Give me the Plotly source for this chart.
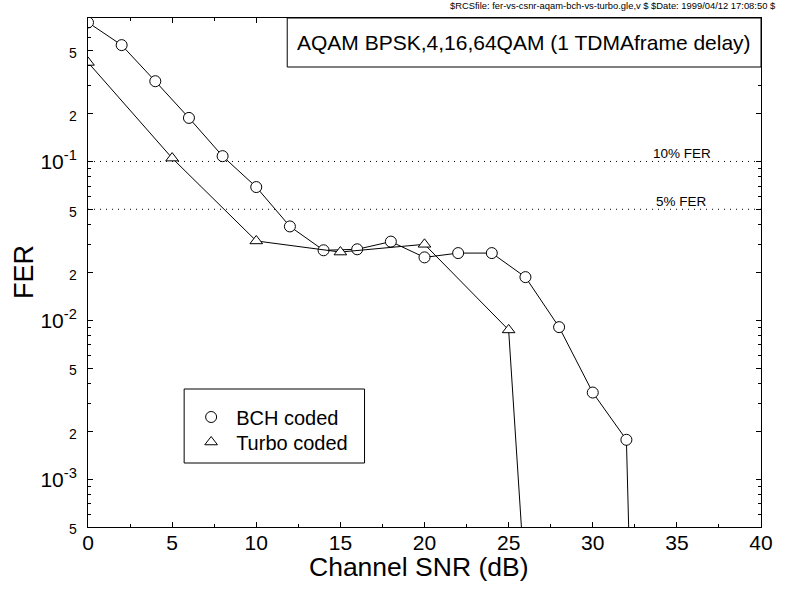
import plotly.graph_objects as go

# ---- data ----
bch_snr = [0, 2, 4, 6, 8, 10, 12, 14, 16, 18, 20, 22, 24, 26, 28, 30, 32, 34]
bch_fer = [0.75, 0.54, 0.32, 0.188, 0.108, 0.069, 0.039, 0.0276, 0.028, 0.0313,
           0.0249, 0.0265, 0.0265, 0.0187, 0.00906, 0.00351, 0.00177, 1.3e-11]
turbo_snr = [0, 5, 10, 15, 20, 25, 30]
turbo_fer = [0.42, 0.105, 0.0316, 0.0269, 0.0301, 0.0087, 6e-11]

ref_x = [0, 40]
fer10 = [0.1, 0.1]
fer5 = [0.05, 0.05]

y_major = [5e-4, 1e-3, 2e-3, 5e-3, 1e-2, 2e-2, 5e-2, 0.1, 0.2, 0.5]
y_major_text = ["<span style='font-size:14px'>5</span>", "10<sup>-3</sup>",
                "<span style='font-size:14px'>2</span>", "<span style='font-size:14px'>5</span>",
                "10<sup>-2</sup>", "<span style='font-size:14px'>2</span>",
                "<span style='font-size:14px'>5</span>", "10<sup>-1</sup>",
                "<span style='font-size:14px'>2</span>", "<span style='font-size:14px'>5</span>"]
y_minor = [6e-4, 7e-4, 8e-4, 9e-4,
           3e-3, 4e-3, 6e-3, 7e-3, 8e-3, 9e-3,
           3e-2, 4e-2, 6e-2, 7e-2, 8e-2, 9e-2,
           0.3, 0.4, 0.6, 0.7]

FONT = "Liberation Sans, Arial, sans-serif"
L, R, T, B = 88, 18, 18, 62
W, H = 785, 589
PW, PH = W - L - R, H - T - B


def px2paper_x(px):
    return (px - L) / PW


def px2paper_y(py):
    return (H - B - py) / PH


fig = go.Figure()

# reference lines
dot = dict(color="black", width=1, dash="1px,5px")
fig.add_trace(go.Scatter(x=ref_x, y=fer10, mode="lines", line=dot, showlegend=False, hoverinfo="skip"))
fig.add_trace(go.Scatter(x=ref_x, y=fer5, mode="lines", line=dot, showlegend=False, hoverinfo="skip"))

mk_c = dict(symbol="circle", size=11, color="white", line=dict(color="black", width=1))
mk_t = dict(symbol="triangle-up", size=11, color="white", line=dict(color="black", width=1))

fig.add_trace(go.Scatter(x=bch_snr, y=bch_fer, mode="lines+markers",
                         line=dict(color="black", width=1), marker=mk_c,
                         showlegend=False, cliponaxis=True))
fig.add_trace(go.Scatter(x=turbo_snr, y=turbo_fer, mode="lines+markers",
                         line=dict(color="black", width=1), marker=mk_t,
                         showlegend=False, cliponaxis=True))

# legend entries (marker only), one legend per row for exact placement
fig.add_trace(go.Scatter(x=[None], y=[None], mode="markers", marker=mk_c,
                         name="BCH coded", legend="legend"))
fig.add_trace(go.Scatter(x=[None], y=[None], mode="markers", marker=mk_t,
                         name="Turbo coded", legend="legend2"))

fig.update_xaxes(range=[0, 40], dtick=5, tick0=0, ticks="inside", ticklen=5,
                 tickcolor="black", showline=True, linecolor="black", linewidth=1,
                 mirror="ticks", showgrid=False, zeroline=False,
                 tickfont=dict(family=FONT, size=21, color="black"),
                 minor=dict(dtick=2.5, ticks="inside", ticklen=3, tickcolor="black"),
                 ticklabelstandoff=-3)

fig.update_yaxes(type="log", range=[-3.30103, -0.09691], tickmode="array",
                 tickvals=y_major, ticktext=y_major_text, ticks="inside", ticklen=5,
                 tickcolor="black", showline=True, linecolor="black", linewidth=1,
                 mirror="ticks", showgrid=False, zeroline=False,
                 tickfont=dict(family=FONT, size=21, color="black"),
                 minor=dict(tickvals=y_minor, ticks="inside", ticklen=3, tickcolor="black"),
                 ticklabelstandoff=6)

shapes = [
    # title box
    dict(type="rect", xref="paper", yref="paper",
         x0=px2paper_x(289), x1=1.0, y0=px2paper_y(67), y1=1.0,
         line=dict(color="black", width=1), fillcolor="white", layer="above"),
    # legend box
    dict(type="rect", xref="paper", yref="paper",
         x0=px2paper_x(185), x1=px2paper_x(367), y0=px2paper_y(463), y1=px2paper_y(389),
         line=dict(color="black", width=1), fillcolor="rgba(0,0,0,0)", layer="above"),
]

annotations = [
    dict(text="AQAM BPSK,4,16,64QAM (1 TDMAframe delay)", xref="paper", yref="paper",
         x=px2paper_x(528), y=px2paper_y(42.5), xanchor="center", yanchor="middle",
         showarrow=False, font=dict(family=FONT, size=21, color="black")),
    dict(text="$RCSfile: fer-vs-csnr-aqam-bch-vs-turbo.gle,v $ $Date: 1999/04/12 17:08:50 $",
         xref="paper", yref="paper", x=px2paper_x(784), y=px2paper_y(5),
         xanchor="right", yanchor="middle", showarrow=False,
         font=dict(family=FONT, size=9.4, color="black")),
    dict(text="10% FER", xref="x", yref="y", x=35.3, y=-1, xanchor="center", yanchor="bottom",
         showarrow=False, font=dict(family=FONT, size=13.5, color="black"), yshift=-2),
    dict(text="5% FER", xref="x", yref="y", x=35.3, y=-1.30103, xanchor="center", yanchor="bottom",
         showarrow=False, font=dict(family=FONT, size=13.5, color="black"), yshift=-2),
    # axis titles
    dict(text="Channel SNR (dB)", xref="paper", yref="paper",
         x=px2paper_x(421.5), y=px2paper_y(567), xanchor="center", yanchor="middle",
         showarrow=False, font=dict(family=FONT, size=26.5, color="black")),
    dict(text="FER", xref="paper", yref="paper", textangle=-90,
         x=px2paper_x(23), y=px2paper_y(272.5), xanchor="center", yanchor="middle",
         showarrow=False, font=dict(family=FONT, size=27, color="black")),
]

leg_common = dict(xanchor="left", yanchor="middle", bgcolor="rgba(0,0,0,0)", borderwidth=0,
                  font=dict(family=FONT, size=20, color="black"), itemwidth=40)

fig.update_layout(
    width=W, height=H,
    margin=dict(l=L, r=R, t=T, b=B, pad=0),
    paper_bgcolor="white", plot_bgcolor="white",
    shapes=shapes, annotations=annotations,
    showlegend=True,
    legend=dict(x=px2paper_x(187), y=px2paper_y(417), **leg_common),
    legend2=dict(x=px2paper_x(187), y=px2paper_y(442), **leg_common),
    font=dict(family=FONT, color="black"),
)

fig.write_html("out.html")
